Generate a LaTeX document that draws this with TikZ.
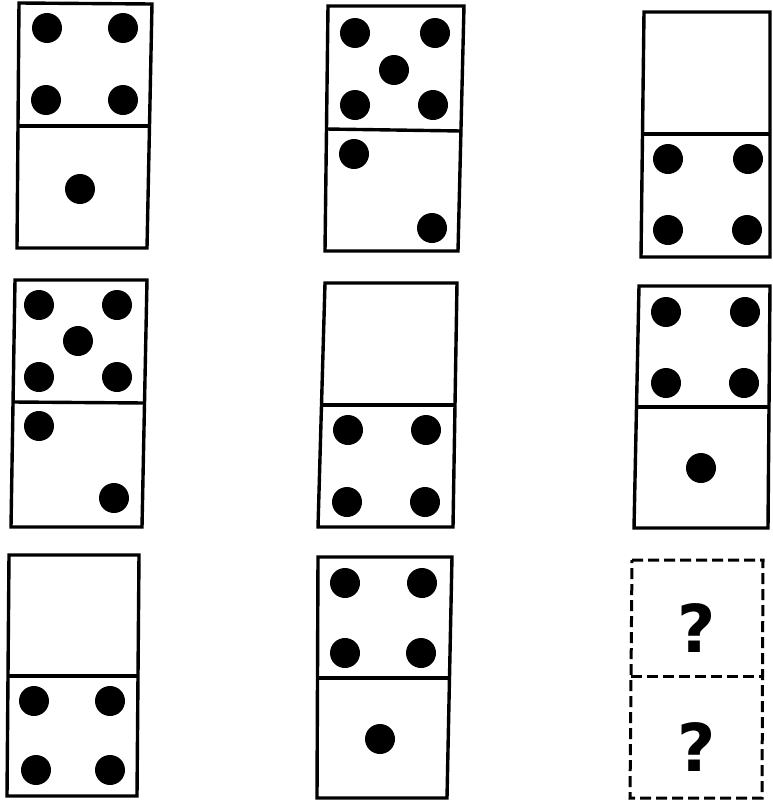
\documentclass[tikz,border=0pt]{standalone}
\usepackage{fontspec}
\setmainfont{Liberation Sans}
\newfontfamily\qfont{DejaVu Sans}
\begin{document}
\begin{tikzpicture}[x=1pt,y=-1pt,
  dom/.style={draw=black,line width=3.4pt,line join=miter},
  domdash/.style={draw=black,line width=3pt,dash pattern=on 11pt off 5pt},
  pip/.style={fill=black},
  qmark/.style={font=\qfont\bfseries\fontsize{66}{66}\selectfont,inner sep=0pt}]
\useasboundingbox[fill=white] (0,0) rectangle (772,806);
% domino 1
\draw[dom] (19,3) -- (152,4) -- (147,248) -- (17,248) -- cycle;
\draw[dom] (18,126) -- (149,126);
\foreach \p in {(47,28),(123,28),(46,100),(123,100),(80,189)} \fill[pip] \p circle (15);
% domino 2
\draw[dom] (328,6) -- (464,6) -- (458,251) -- (325,251) -- cycle;
\draw[dom] (326,129) -- (461,131);
\foreach \p in {(355,33),(435,33),(394,70),(355,105),(433,105),(354,154),(432,228)} \fill[pip] \p circle (15);
% domino 3
\draw[dom] (644,12) -- (770,12) -- (770,257) -- (641,257) -- cycle;
\draw[dom] (642,134) -- (770,134);
\foreach \p in {(668,159),(748,159),(668,230),(747,230)} \fill[pip] \p circle (15);
% domino 4
\draw[dom] (15,280) -- (147,280) -- (142,527) -- (11,527) -- cycle;
\draw[dom] (13,402) -- (145,403);
\foreach \p in {(39,305),(117,305),(78,341),(39,377),(117,377),(39,426),(114,498)} \fill[pip] \p circle (15);
% domino 5
\draw[dom] (325,283) -- (457,283) -- (453,527) -- (318,527) -- cycle;
\draw[dom] (322,405) -- (455,405);
\foreach \p in {(348,430),(426,430),(347,502),(425,502)} \fill[pip] \p circle (15);
% domino 6
\draw[dom] (639,286) -- (770,286) -- (768,528) -- (634,528) -- cycle;
\draw[dom] (637,407) -- (769,407);
\foreach \p in {(666,312),(745,312),(666,383),(744,383),(701,468)} \fill[pip] \p circle (15);
% domino 7
\draw[dom] (9,555) -- (139,555) -- (137,796) -- (7,796) -- cycle;
\draw[dom] (8,676) -- (138,676);
\foreach \p in {(34,701),(110,701),(36,770),(110,770)} \fill[pip] \p circle (15);
% domino 8
\draw[dom] (318,557) -- (452,557) -- (447,798) -- (317,798) -- cycle;
\draw[dom] (317,678) -- (449,678);
\foreach \p in {(345,583),(422,583),(345,653),(421,653),(380,739)} \fill[pip] \p circle (15);
% domino 9 (unknown)
\draw[domdash] (632,560) -- (763,560) -- (762,798) -- (630,798) -- cycle;
\draw[domdash] (631,676) -- (763,676);
\node[qmark] (q1) at (697,628) {?};
\node[qmark] (q2) at (697,747) {?};
\end{tikzpicture}
\end{document}
